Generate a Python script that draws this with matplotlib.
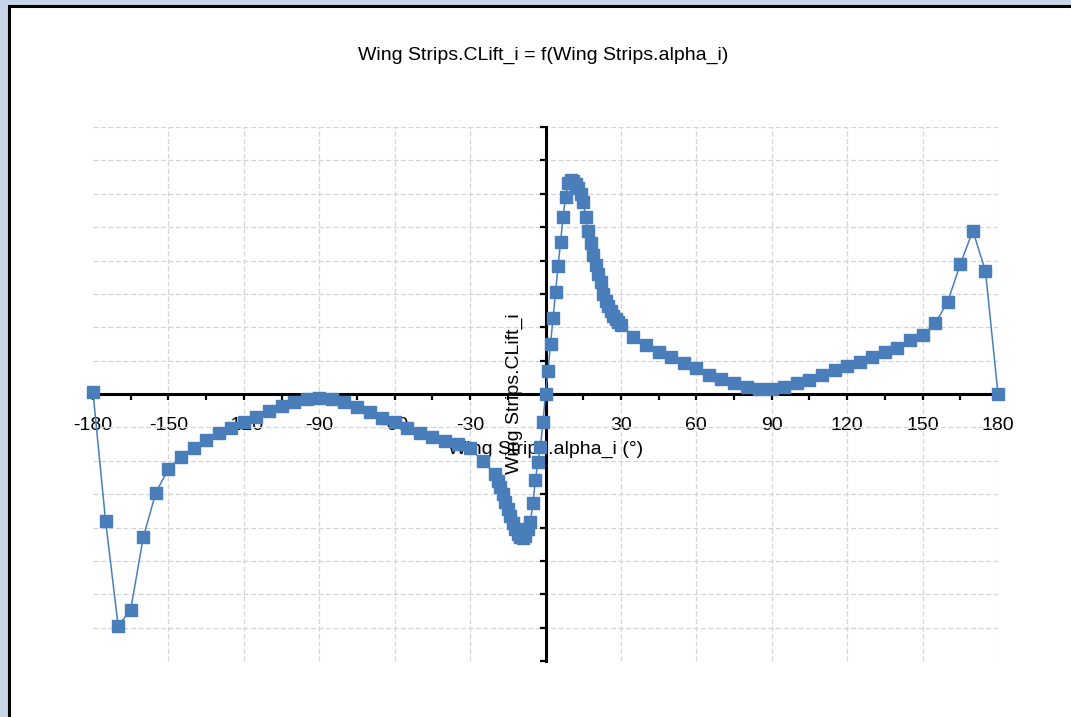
import numpy as np
import matplotlib.pyplot as plt
from matplotlib.patches import Rectangle
from matplotlib.ticker import MultipleLocator

plt.rcParams['font.family'] = ['Liberation Sans', 'DejaVu Sans']

# angle of attack (deg) and lift coefficient
alpha_i = [-180, -175, -170, -165, -160, -155, -150, -145, -140, -135,
           -130, -125, -120, -115, -110, -105, -100, -95, -90, -85,
           -80, -75, -70, -65, -60, -55, -50, -45, -40, -35,
           -30, -25,
           -20, -19, -18, -17, -16, -15, -14, -13, -12, -11,
           -10, -9, -8, -7, -6, -5, -4, -3, -2, -1,
           0, 1, 2, 3, 4, 5, 6, 7, 8, 9,
           10, 11, 12, 13, 14, 15, 16, 17, 18, 19,
           20, 21, 22, 23, 24, 25, 26, 27, 28, 29,
           30, 35, 40, 45, 50, 55, 60, 65, 70, 75,
           80, 85, 90, 95, 100, 105, 110, 115, 120, 125,
           130, 135, 140, 145, 150, 155, 160, 165, 170, 175,
           180]
clift_i = [0.01, -0.76, -1.389, -1.293, -0.858, -0.591, -0.449, -0.375, -0.321, -0.275,
           -0.235, -0.201, -0.170, -0.136, -0.102, -0.070, -0.046, -0.030, -0.022, -0.030,
           -0.050, -0.076, -0.106, -0.142, -0.170, -0.205, -0.235, -0.256, -0.281, -0.301,
           -0.325, -0.401,
           -0.48, -0.52, -0.56, -0.60, -0.645, -0.69, -0.73, -0.775, -0.81, -0.84,
           -0.855, -0.865, -0.85, -0.81, -0.765, -0.655, -0.515, -0.405, -0.316, -0.166,
           0.0, 0.138, 0.298, 0.457, 0.609, 0.766, 0.912, 1.062, 1.181, 1.265,
           1.28, 1.275, 1.26, 1.235, 1.20, 1.15, 1.06, 0.975, 0.905, 0.835,
           0.775, 0.72, 0.67, 0.60, 0.56, 0.525, 0.495, 0.47, 0.45, 0.43,
           0.413, 0.343, 0.293, 0.253, 0.223, 0.187, 0.154, 0.114, 0.088, 0.064,
           0.040, 0.028, 0.028, 0.040, 0.064, 0.084, 0.114, 0.144, 0.170, 0.190,
           0.223, 0.253, 0.277, 0.323, 0.353, 0.423, 0.553, 0.778, 0.978, 0.738,
           0.0]

x_ticks = [-180, -150, -120, -90, -60, -30, 0, 30, 60, 90, 120, 150, 180]
x_labels = ['-180', '-150', '-120', '-90', '-60', '-30', '', '30', '60', '90', '120', '150', '180']
y_ticks = [-1.6, -1.4, -1.2, -1.0, -0.8, -0.6, -0.4, -0.2, 0.0,
           0.2, 0.4, 0.6, 0.8, 1.0, 1.2, 1.4, 1.6]

title = 'Wing Strips.CLift_i = f(Wing Strips.alpha_i)'
xlabel = 'Wing Strips.alpha_i (°)'
ylabel = 'Wing Strips.CLift_i'

W, H = 1071, 717
fig = plt.figure(figsize=(W / 100, H / 100), dpi=100)
fig.patch.set_facecolor('#c5d4e6')

# white window area with black frame on left/top
fig.add_artist(Rectangle((8.5 / W, -0.1), 1.2, (H - 5.5) / H + 0.1,
                         transform=fig.transFigure, facecolor='white',
                         edgecolor='black', linewidth=2.2, zorder=-5))

ax = fig.add_axes([93 / W, 56 / H, 905 / W, 534 / H])
ax.set_facecolor('none')
ax.set_xlim(-180, 180)
ax.set_ylim(-1.6, 1.6)
ax.set_axisbelow(True)

blue = '#4a7ebb'
ax.plot(alpha_i, clift_i, color=blue, lw=1.1, marker='s', ms=9,
        mec=blue, mfc=blue, zorder=3, clip_on=False)

for s in ['top', 'right']:
    ax.spines[s].set_visible(False)
for s in ['left', 'bottom']:
    ax.spines[s].set_position('zero')
    ax.spines[s].set_linewidth(2.2)

ax.set_xticks(x_ticks)
ax.set_xticklabels(x_labels, fontsize=14)
ax.xaxis.set_minor_locator(MultipleLocator(15))
ax.tick_params(axis='x', which='both', direction='out', length=4.5, width=1.6, pad=12)
ax.set_yticks(y_ticks)
ax.tick_params(axis='y', direction='out', length=4.5, width=1.6, labelleft=False)

ax.grid(True, which='major', color='#d4d4d4', ls=(0, (4, 2)), lw=0.9)
for gl, v in zip(ax.get_xgridlines(), x_ticks):
    if v in (-180, 0):
        gl.set_visible(False)
for gl, v in zip(ax.get_ygridlines(), y_ticks):
    if v in (-1.6, 0.0):
        gl.set_visible(False)

ax.set_xlabel(xlabel, fontsize=14, va='center')
ax.xaxis.set_label_coords(0.5, (661 - 449) / 534)
ax.set_ylabel(ylabel, fontsize=14, va='center')
ax.yaxis.set_label_coords((514 - 93) / 905, 0.5)

fig.text(543 / W, 1 - 55 / H, title, ha='center', va='center', fontsize=14)

fig.savefig('out.png', dpi=100, facecolor=fig.get_facecolor())
